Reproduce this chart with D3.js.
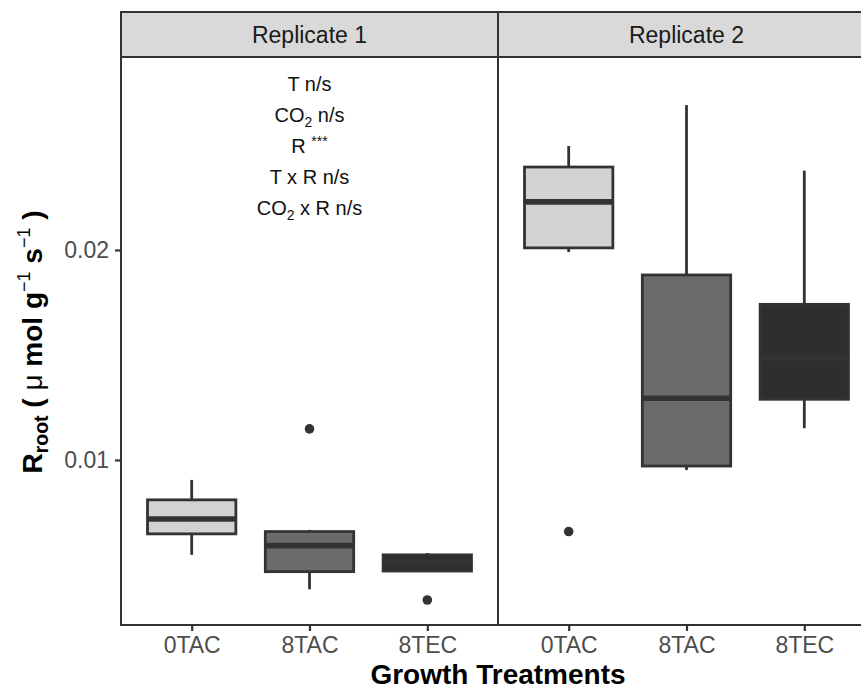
<!DOCTYPE html>
<html>
<head>
<meta charset="utf-8">
<script src="https://cdn.jsdelivr.net/npm/d3@7"></script>
<style>
  html, body { margin: 0; padding: 0; background: #fff; }
  svg { display: block; font-family: "Liberation Sans", Arial, Helvetica, sans-serif; }
</style>
</head>
<body>
<svg id="chart" width="861" height="691"></svg>
<script>
// Facets and treatments
const panels = ["Replicate 1", "Replicate 2"];
const treatments = ["0TAC", "8TAC", "8TEC"];
const fills = ["#d3d3d3", "#6b6b6b", "#2e2e2e"];

// Box statistics per facet, ordered as in `treatments` (µmol g-1 s-1)
const lowerWhisker = [[0.00548, 0.00384, 0.00471], [0.01990, 0.00952, 0.01151]];
const lowerHinge   = [[0.00648, 0.00468, 0.00471], [0.02010, 0.00971, 0.01289]];
const medians      = [[0.00719, 0.00592, 0.00510], [0.02229, 0.01294, 0.01484]];
const upperHinge   = [[0.00810, 0.00659, 0.00548], [0.02395, 0.01881, 0.01741]];
const upperWhisker = [[0.00905, 0.00667, 0.00557], [0.02495, 0.02690, 0.02378]];

// Outlying observations: facet index, treatment, value
const outlierPanel = [0, 0, 1];
const outlierTreat = ["8TAC", "8TEC", "0TAC"];
const outlierValue = [0.01148, 0.00333, 0.00659];

// Significance summary printed in the first facet
const statLines = [
  [["T n/s", null]],
  [["CO", null], ["2", "sub"], [" n/s", null]],
  [["R ", null], ["***", "sup"]],
  [["T x R n/s", null]],
  [["CO", null], ["2", "sub"], [" x R n/s", null]]
];

const yTicks = [0.01, 0.02];
const yDomain = [0.00214, 0.02919];

// Layout
const svg = d3.select("#chart");
const plotLeft = 121, panelW = 377, plotTop = 57, plotBottom = 625, stripTop = 12;
const dark = "#333333";
const lw = 2.8;

const y = d3.scaleLinear().domain(yDomain).range([plotBottom, plotTop]);
const facet = d3.scaleBand().domain(panels).range([plotLeft, plotLeft + panelW * 2]).padding(0);
const x = d3.scalePoint().domain(treatments).range([0, facet.bandwidth()]).padding(0.6);
const boxW = x.step() * 0.75;

panels.forEach((p, pi) => {
  const g = svg.append("g").attr("transform", `translate(${facet(p)},0)`);

  // panel background
  g.append("rect").attr("x", 0).attr("y", plotTop)
    .attr("width", facet.bandwidth()).attr("height", plotBottom - plotTop)
    .attr("fill", "#fff");

  // strip
  g.append("rect").attr("x", 0).attr("y", stripTop)
    .attr("width", facet.bandwidth()).attr("height", plotTop - stripTop)
    .attr("fill", "#d9d9d9").attr("stroke", dark).attr("stroke-width", 2);
  g.append("text").attr("x", facet.bandwidth() / 2).attr("y", (stripTop + plotTop) / 2)
    .attr("dy", "0.36em").attr("text-anchor", "middle")
    .attr("font-size", 23).attr("fill", "#1a1a1a").text(p);

  // boxes
  treatments.forEach((t, ti) => {
    const cx = x(t);
    g.append("line").attr("x1", cx).attr("x2", cx)
      .attr("y1", y(upperWhisker[pi][ti])).attr("y2", y(upperHinge[pi][ti]))
      .attr("stroke", dark).attr("stroke-width", lw);
    g.append("line").attr("x1", cx).attr("x2", cx)
      .attr("y1", y(lowerHinge[pi][ti])).attr("y2", y(lowerWhisker[pi][ti]))
      .attr("stroke", dark).attr("stroke-width", lw);
    g.append("rect").attr("x", cx - boxW / 2).attr("y", y(upperHinge[pi][ti]))
      .attr("width", boxW).attr("height", y(lowerHinge[pi][ti]) - y(upperHinge[pi][ti]))
      .attr("fill", fills[ti]).attr("stroke", dark).attr("stroke-width", lw);
    g.append("line").attr("x1", cx - boxW / 2).attr("x2", cx + boxW / 2)
      .attr("y1", y(medians[pi][ti])).attr("y2", y(medians[pi][ti]))
      .attr("stroke", dark).attr("stroke-width", lw * 2);
  });

  // outliers
  outlierValue.forEach((v, i) => {
    if (outlierPanel[i] !== pi) return;
    g.append("circle").attr("cx", x(outlierTreat[i])).attr("cy", y(v))
      .attr("r", 4.8).attr("fill", dark);
  });

  // x axis
  const xa = g.append("g").attr("transform", `translate(0,${plotBottom})`)
    .call(d3.axisBottom(x).tickSize(6).tickPadding(6));
  xa.select(".domain").remove();
  xa.selectAll(".tick line").attr("stroke", dark).attr("stroke-width", 2.2);
  xa.selectAll(".tick text").attr("font-size", 23).attr("fill", "#4d4d4d")
    .attr("font-family", null);

  // panel border
  g.append("rect").attr("x", 0).attr("y", plotTop)
    .attr("width", facet.bandwidth()).attr("height", plotBottom - plotTop)
    .attr("fill", "none").attr("stroke", dark).attr("stroke-width", 2);

  if (pi === 0) {
    statLines.forEach((parts, li) => {
      const line = g.append("text").attr("text-anchor", "middle")
        .attr("x", x("8TAC")).attr("y", 91 + li * 31)
        .attr("font-size", 20).attr("fill", "#111");
      let shift = 0;
      parts.forEach(([s, kind]) => {
        const ts = line.append("tspan").text(s);
        const target = kind === "sub" ? 5 : kind === "sup" ? -7 : 0;
        if (kind) ts.attr("font-size", 14);
        if (target !== shift) ts.attr("dy", target - shift);
        shift = target;
      });
    });
  }
});

// y axis
const ya = svg.append("g").attr("transform", `translate(${plotLeft},0)`)
  .call(d3.axisLeft(y).tickValues(yTicks).tickFormat(d3.format(".2f")).tickSize(6).tickPadding(6));
ya.select(".domain").remove();
ya.selectAll(".tick line").attr("stroke", dark).attr("stroke-width", 2.2);
ya.selectAll(".tick text").attr("font-size", 23).attr("fill", "#4d4d4d").attr("font-family", null);

// axis titles
svg.append("text").attr("x", plotLeft + panelW).attr("y", 684)
  .attr("text-anchor", "middle").attr("font-size", 28).attr("font-weight", "bold")
  .attr("fill", "#000").text("Growth Treatments");

const yt = svg.append("text").attr("transform", "translate(42,342) rotate(-90)")
  .attr("text-anchor", "middle").attr("font-size", 28).attr("font-weight", "bold").attr("fill", "#000");
yt.append("tspan").text("R");
yt.append("tspan").text("root").attr("font-size", 19.5).attr("dy", 6);
yt.append("tspan").text(" ( ").attr("dy", -6);
yt.append("tspan").text("μ").attr("font-weight", "normal");
yt.append("tspan").text(" mol g");
yt.append("tspan").text("−1").attr("font-size", 18).attr("font-weight", "normal").attr("dy", -12);
yt.append("tspan").text(" s").attr("dy", 12);
yt.append("tspan").text("−1").attr("font-size", 18).attr("font-weight", "normal").attr("dy", -12);
yt.append("tspan").text(" )").attr("dy", 12);
</script>
</body>
</html>
